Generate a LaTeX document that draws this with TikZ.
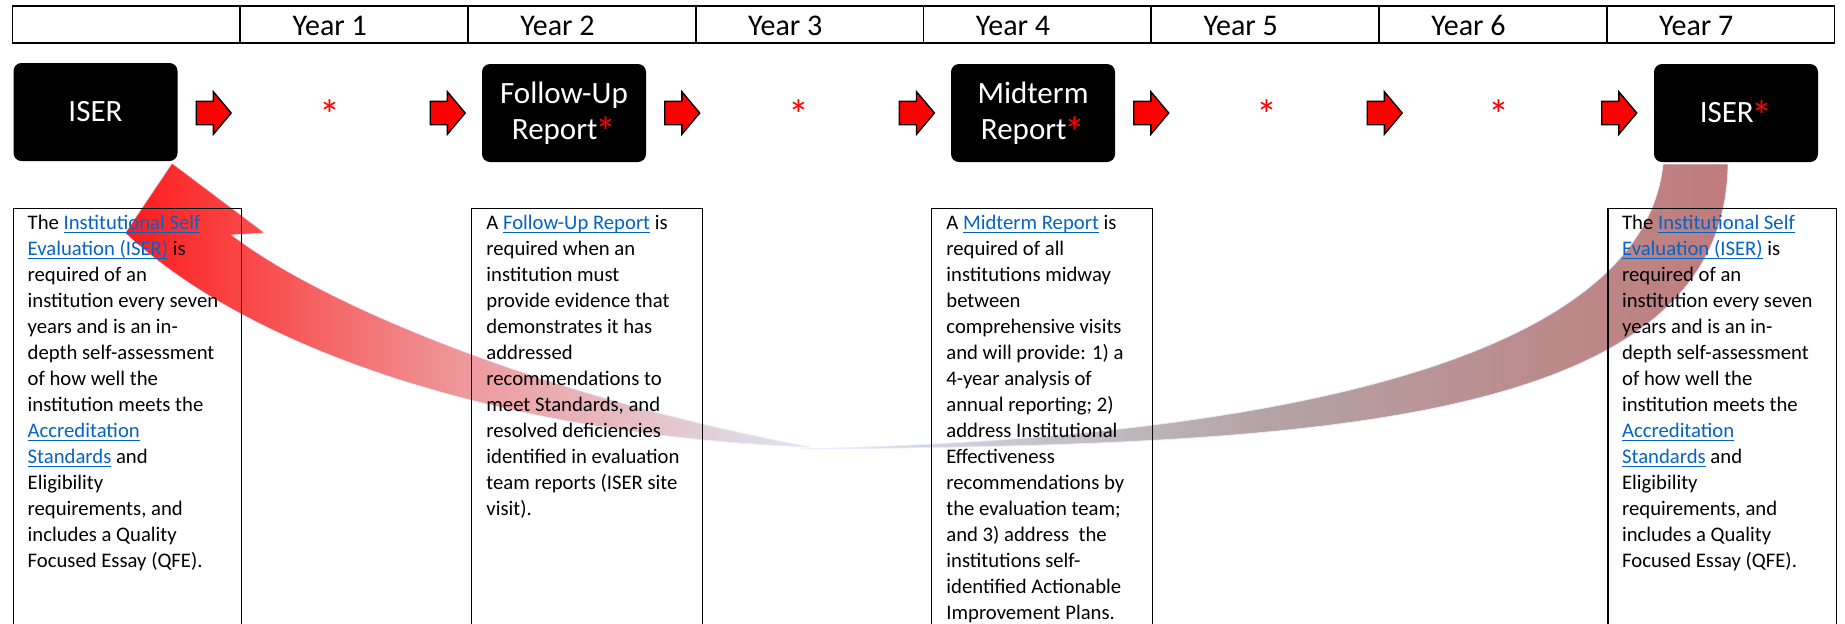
\documentclass[tikz,border=0pt]{standalone}
\usepackage{fontspec}
\setmainfont{Carlito}
\usepackage{xcolor}
\definecolor{linkblue}{HTML}{0563C1}
\definecolor{headred}{HTML}{FF1A1A}
\definecolor{fadepink}{HTML}{EE9A9C}
\definecolor{fadeblue}{HTML}{DDE6F1}
\definecolor{rosy}{HTML}{C07B7B}
\definecolor{mauvegray}{HTML}{B4A3A5}
\usepackage{tikz}
\usetikzlibrary{shapes.arrows,positioning}
\newcommand{\lnk}[1]{\textcolor{linkblue}{\setbox0\hbox{#1}\rlap{\rule[-1.9pt]{\wd0}{0.5pt}}\box0}}
\newcommand{\redast}{\kern-1.2pt\smash{\raisebox{-3.8pt}{\textcolor{red}{\fontsize{21}{18}\selectfont *}}}}
\newcommand{\isertext}{\strut The \lnk{Institutional Self}\\
  \lnk{Evaluation (ISER)} is\\
  required of an\\
  institution every seven\\
  years and is an in-\\
  depth self-assessment\\
  of how well the\\
  institution meets the\\
  \lnk{Accreditation}\\
  \lnk{Standards} and\\
  Eligibility\\
  requirements, and\\
  includes a Quality\\
  Focused Essay (QFE).}
\tikzset{
  tbl/.style={draw=black, line width=0.8pt},
  yearlbl/.style={inner sep=0pt, anchor=base west, font=\fontsize{15}{17}\selectfont},
  yrbox/.style={fill=black, rounded corners=4pt, minimum width=82pt, minimum height=49pt,
                inner sep=0pt, text=white, align=center, font=\fontsize{15.5}{18}\selectfont},
  redast/.style={inner sep=0pt, anchor=base, text=red, font=\fontsize{21}{18}\selectfont},
  blockarrow/.style={single arrow, draw=black, fill=red, line width=0.7pt, inner xsep=0pt,
                     inner ysep=5.5pt, minimum height=17.5pt, single arrow head extend=4.8pt,
                     single arrow tip angle=100, anchor=tail},
  descframe/.style={draw=black, line width=0.6pt, anchor=north west, minimum height=220pt, inner sep=0pt},
  desctext/.style={anchor=north west, inner sep=0pt, align=left, font=\fontsize{10.35}{13}\selectfont},
  sweep/.style={draw=blue!8, line width=0.4pt},
}

\begin{document}
\begin{tikzpicture}[x=0.5pt, y=-0.5pt]
  \useasboundingbox (0,0) rectangle (1845,623);
  \clip (0,0) rectangle (1845,623);

  % curved return arrows
  \shade[sweep, left color=headred, right color=fadeblue, middle color=fadepink]
    (172,163) -- (265,233) -- (232,235) .. controls (330,310) and (560,400) .. (810,447)
    .. controls (500,435) and (250,350) .. (125,233) -- cycle;
  \shade[sweep, left color=fadeblue, right color=rosy, middle color=mauvegray]
    (1663,164) -- (1728,164) .. controls (1725,430) and (1300,445) .. (800,449)
    .. controls (1200,440) and (1640,380) .. (1663,164) -- cycle;

  % year header
  \draw[tbl] (12.5,6) rectangle (1834.4,43);
  \foreach \i in {1,...,7} {
    \draw[tbl] (12.5+\i*227.74,6) -- (12.5+\i*227.74,43);
    \node[yearlbl] (y\i) at (64.5+\i*227.74,35) {Year \i};
  }

  % report boxes
  \node[yrbox] (iser0) at (95.5,112) {ISER};
  \node[yrbox] (fup) at (564,113) {Follow-Up\\Report\redast};
  \node[yrbox] (mid) at (1033,113) {Midterm\\Report\redast};
  \node[yrbox] (iser7) at (1736,113) {ISER\redast};

  \node[redast] (s1) at (330,129) {*};
  \node[redast] (s3) at (798.7,129) {*};
  \node[redast] (s5) at (1267,129) {*};
  \node[redast] (s6) at (1499,129) {*};

  \foreach \x [count=\i] in {195.5,429.5,664,898.7,1133,1366.5,1601}
    \node[blockarrow] (a\i) at (\x,113) {};

  % descriptions
  \node[descframe, minimum width=114.25pt] (f1) at (12.5,208) {};
  \node[descframe, minimum width=115.35pt] (f2) at (471,208) {};
  \node[descframe, minimum width=110.35pt] (f3) at (931,208) {};
  \node[descframe, minimum width=114.2pt] (f4) at (1607.3,208) {};

  \node[desctext] (t1) at ([xshift=7.4pt,yshift=-1.4pt]f1.north west) {\isertext};
  \node[desctext] (t2) at ([xshift=7.5pt,yshift=-1.4pt]f2.north west) {\strut A \lnk{Follow-Up Report} is\\
    required when an\\
    institution must\\
    provide evidence that\\
    demonstrates it has\\
    addressed\\
    recommendations to\\
    meet Standards, and\\
    resolved deficiencies\\
    identified in evaluation\\
    team reports (ISER site\\
    visit).};
  \node[desctext] (t3) at ([xshift=7.5pt,yshift=-1.4pt]f3.north west) {\strut A \lnk{Midterm Report} is\\
    required of all\\
    institutions midway\\
    between\\
    comprehensive visits\\
    and will provide: 1) a\\
    4-year analysis of\\
    annual reporting; 2)\\
    address Institutional\\
    Effectiveness\\
    recommendations by\\
    the evaluation team;\\
    and 3) address~~the\\
    institutions self-\\
    identified Actionable\\
    Improvement Plans.};
  \node[desctext] (t4) at ([xshift=7.2pt,yshift=-1.4pt]f4.north west) {\isertext};
\end{tikzpicture}
\end{document}
